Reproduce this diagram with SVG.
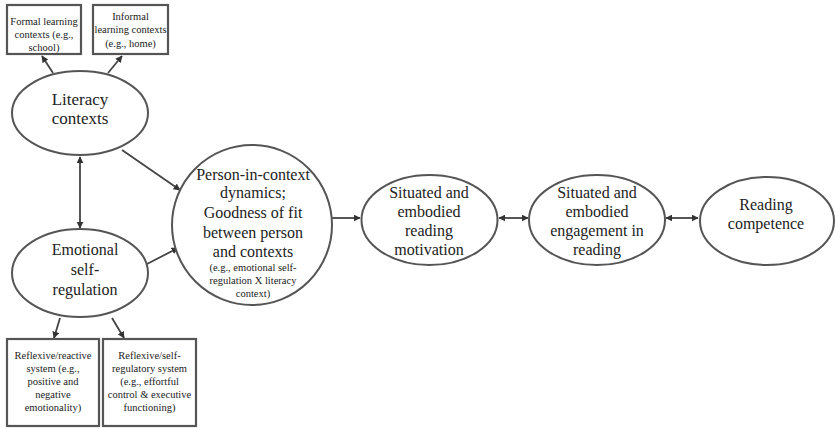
<svg xmlns="http://www.w3.org/2000/svg" width="835" height="430" viewBox="0 0 835 430">
<defs>
<marker id="ah" viewBox="0 0 10 10" refX="9" refY="5" markerWidth="7" markerHeight="7" markerUnits="userSpaceOnUse" orient="auto-start-reverse">
<path d="M0,0 L10,5 L0,10 z" fill="#333"/>
</marker>
</defs>
<rect width="835" height="430" fill="#fff"/>
<g id="connectors" stroke="#444" stroke-width="1.8" fill="none">
<line x1="53" y1="73" x2="42" y2="56" marker-end="url(#ah)"/>
<line x1="108" y1="73" x2="122" y2="56" marker-end="url(#ah)"/>
<line x1="80" y1="157" x2="80" y2="228" marker-start="url(#ah)" marker-end="url(#ah)"/>
<line x1="122" y1="150" x2="180" y2="190" marker-end="url(#ah)"/>
<line x1="147" y1="264" x2="178" y2="248" marker-end="url(#ah)"/>
<line x1="60" y1="318" x2="54" y2="338" marker-end="url(#ah)"/>
<line x1="112" y1="318" x2="124" y2="338" marker-end="url(#ah)"/>
<line x1="332" y1="218" x2="360" y2="218" marker-end="url(#ah)"/>
<line x1="499" y1="218" x2="528" y2="218" marker-start="url(#ah)" marker-end="url(#ah)"/>
<line x1="666" y1="218" x2="698" y2="218" marker-start="url(#ah)" marker-end="url(#ah)"/>
</g>
<g id="formal" font-family="Liberation Serif" font-size="10.5" text-anchor="middle" fill="#222">
<rect x="7" y="5" width="74" height="49" fill="#fff" stroke="#555" stroke-width="2.2"/>
<text x="44" y="24.5">Formal learning</text>
<text x="44" y="37.5">contexts (e.g.,</text>
<text x="44" y="50.5">school)</text>
</g>
<g id="informal" font-family="Liberation Serif" font-size="10.5" text-anchor="middle" fill="#222">
<rect x="93" y="5" width="75" height="49" fill="#fff" stroke="#555" stroke-width="2.2"/>
<text x="130.5" y="20">Informal</text>
<text x="130.5" y="33">learning contexts</text>
<text x="130.5" y="46.5">(e.g., home)</text>
</g>
<g id="literacy" font-family="Liberation Serif" font-size="17" text-anchor="middle" fill="#222">
<ellipse cx="80" cy="113" rx="68" ry="42" fill="#fff" stroke="#555" stroke-width="2"/>
<text x="80" y="105">Literacy</text>
<text x="80" y="124">contexts</text>
</g>
<g id="emotional" font-family="Liberation Serif" font-size="16" text-anchor="middle" fill="#222">
<ellipse cx="80" cy="273" rx="68" ry="44" fill="#fff" stroke="#555" stroke-width="2"/>
<text x="85" y="255">Emotional</text>
<text x="85" y="275">self-</text>
<text x="85" y="295">regulation</text>
</g>
<g id="reactive" font-family="Liberation Serif" font-size="10.5" text-anchor="middle" fill="#222">
<rect x="7" y="339" width="92" height="87" fill="#fff" stroke="#555" stroke-width="2.2"/>
<text x="53" y="359">Reflexive/reactive</text>
<text x="53" y="372">system (e.g.,</text>
<text x="53" y="385">positive and</text>
<text x="53" y="398">negative</text>
<text x="53" y="411">emotionality)</text>
</g>
<g id="selfregulatory" font-family="Liberation Serif" font-size="10.5" text-anchor="middle" fill="#222">
<rect x="103" y="339" width="93" height="87" fill="#fff" stroke="#555" stroke-width="2.2"/>
<text x="149.5" y="359">Reflexive/self-</text>
<text x="149.5" y="372">regulatory system</text>
<text x="149.5" y="385">(e.g., effortful</text>
<text x="149.5" y="398">control &amp; executive</text>
<text x="149.5" y="411">functioning)</text>
</g>
<g id="person" font-family="Liberation Serif" font-size="16" text-anchor="middle" fill="#222">
<circle cx="252" cy="225" r="80" fill="#fff" stroke="#555" stroke-width="2"/>
<text x="253" y="180">Person-in-context</text>
<text x="253" y="198">dynamics;</text>
<text x="253" y="218">Goodness of fit</text>
<text x="253" y="238">between person</text>
<text x="253" y="257">and contexts</text>
<text x="253" y="271" font-size="10.5">(e.g., emotional self-</text>
<text x="253" y="284" font-size="10.5">regulation X literacy</text>
<text x="253" y="297" font-size="10.5">context)</text>
</g>
<g id="motivation" font-family="Liberation Serif" font-size="16" text-anchor="middle" fill="#222">
<ellipse cx="429.5" cy="220" rx="68" ry="45" fill="#fff" stroke="#555" stroke-width="2"/>
<text x="429" y="198">Situated and</text>
<text x="429" y="217">embodied</text>
<text x="429" y="236">reading</text>
<text x="429" y="255">motivation</text>
</g>
<g id="engagement" font-family="Liberation Serif" font-size="16" text-anchor="middle" fill="#222">
<ellipse cx="597" cy="220" rx="68" ry="45" fill="#fff" stroke="#555" stroke-width="2"/>
<text x="597" y="198">Situated and</text>
<text x="597" y="217">embodied</text>
<text x="597" y="236">engagement in</text>
<text x="597" y="255">reading</text>
</g>
<g id="competence" font-family="Liberation Serif" font-size="16" text-anchor="middle" fill="#222">
<ellipse cx="767" cy="221" rx="67" ry="44" fill="#fff" stroke="#555" stroke-width="2"/>
<text x="766" y="210">Reading</text>
<text x="766" y="229">competence</text>
</g>
</svg>
